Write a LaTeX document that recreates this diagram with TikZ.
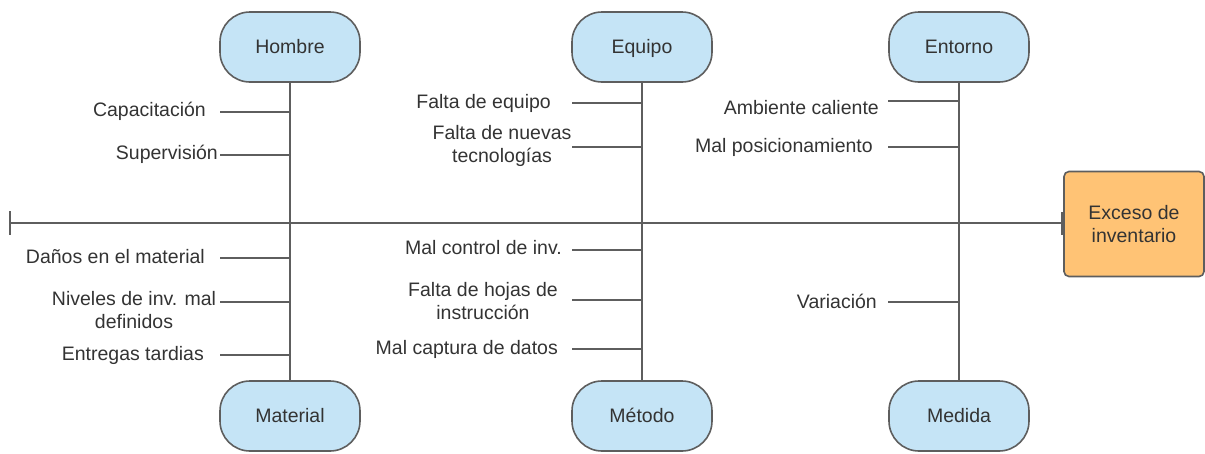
\documentclass[tikz,border=0pt]{standalone}
\usepackage{fontspec}
\setmainfont{Liberation Sans}
\definecolor{lineg}{HTML}{5E5E5E}
\definecolor{txtg}{HTML}{333333}
\definecolor{pillblue}{HTML}{C5E4F6}
\definecolor{effor}{HTML}{FFC375}
\begin{document}
\begin{tikzpicture}[x=1pt,y=-1pt,
  every node/.style={font=\fontsize{19.5}{23}\selectfont, text=txtg},
  pill/.style={draw=lineg, line width=1.6pt, fill=pillblue, rounded corners=30pt, minimum width=140pt, minimum height=70pt, inner sep=0pt, text height=12pt, text depth=0pt},
  effect/.style={draw=lineg, line width=1.6pt, fill=effor, rounded corners=5pt, minimum width=140pt, minimum height=105pt, align=center, inner sep=0pt},
  bone/.style={draw=lineg, line width=1.5pt},
  cause/.style={align=center, inner sep=0pt, anchor=base east},
  cause2/.style={align=center, inner sep=0pt, anchor=center}]
\useasboundingbox (0,0) rectangle (1205,453);
% category nodes
\node[pill] (hombre) at (290,47) {Hombre};
\node[pill] (equipo) at (642,47) {Equipo};
\node[pill] (entorno) at (959,47) {Entorno};
\node[pill] (material) at (290,416) {Material};
\node[pill] (metodo) at (642,416) {Método};
\node[pill] (medida) at (959,416) {Medida};
\node[effect] (efecto) at (1134,224) {Exceso de\\inventario};
% spine
\coordinate (spL) at (10,223);
\coordinate (spR) at (efecto.west |- 0,223);
\draw[bone] (spL) -- (spR);
\draw[bone] (10,211) -- (10,235);
\draw[bone, line width=2pt] ([xshift=-1pt]efecto.west |- 0,212) -- ([xshift=-1pt]efecto.west |- 0,235);
% vertical bones
\draw[bone] (hombre) -- (material);
\draw[bone] (equipo) -- (metodo);
\draw[bone] (entorno) -- (medida);
% Hombre
\coordinate (h1) at (290,112); \coordinate (h1e) at (220,112);
\draw[bone] (h1e) -- (h1);
\node[cause] (c1) at (206,116) {Capacitación};
\coordinate (h2) at (290,155); \coordinate (h2e) at (220,155);
\draw[bone] (h2e) -- (h2);
\node[cause] (c2) at (218,159) {Supervisión};
% Equipo
\coordinate (e1) at (642,103); \coordinate (e1e) at (572,103);
\draw[bone] (e1e) -- (e1);
\node[cause] (c3) at (551,108) {Falta de equipo};
\coordinate (e2) at (642,147); \coordinate (e2e) at (572,147);
\draw[bone] (e2e) -- (e2);
\node[cause2] (c4) at (502,146) {Falta de nuevas\\tecnologías};
% Entorno
\coordinate (n1) at (959,101); \coordinate (n1e) at (888,101);
\draw[bone] (n1e) -- (n1);
\node[cause] (c5) at (879,114) {Ambiente caliente};
\coordinate (n2) at (959,147); \coordinate (n2e) at (888,147);
\draw[bone] (n2e) -- (n2);
\node[cause] (c6) at (873,152) {Mal posicionamiento};
% Material
\coordinate (m1) at (290,258); \coordinate (m1e) at (220,258);
\draw[bone] (m1e) -- (m1);
\node[cause] (c7) at (205,263) {Daños en el material};
\coordinate (m2) at (290,302); \coordinate (m2e) at (220,302);
\draw[bone] (m2e) -- (m2);
\node[cause2] (c8) at (134,310) {Niveles de inv. mal\\definidos};
\coordinate (m3) at (290,355); \coordinate (m3e) at (220,355);
\draw[bone] (m3e) -- (m3);
\node[cause] (c9) at (204,360) {Entregas tardias};
% Metodo
\coordinate (t1) at (642,250); \coordinate (t1e) at (572,250);
\draw[bone] (t1e) -- (t1);
\node[cause] (c10) at (562,254) {Mal control de inv.};
\coordinate (t2) at (642,300); \coordinate (t2e) at (572,300);
\draw[bone] (t2e) -- (t2);
\node[cause2] (c11) at (483,301) {Falta de hojas de\\instrucción};
\coordinate (t3) at (642,349); \coordinate (t3e) at (572,349);
\draw[bone] (t3e) -- (t3);
\node[cause] (c12) at (558,354) {Mal captura de datos};
% Medida
\coordinate (d1) at (959,302); \coordinate (d1e) at (888,302);
\draw[bone] (d1e) -- (d1);
\node[cause] (c13) at (877,308) {Variación};
\end{tikzpicture}
\end{document}
